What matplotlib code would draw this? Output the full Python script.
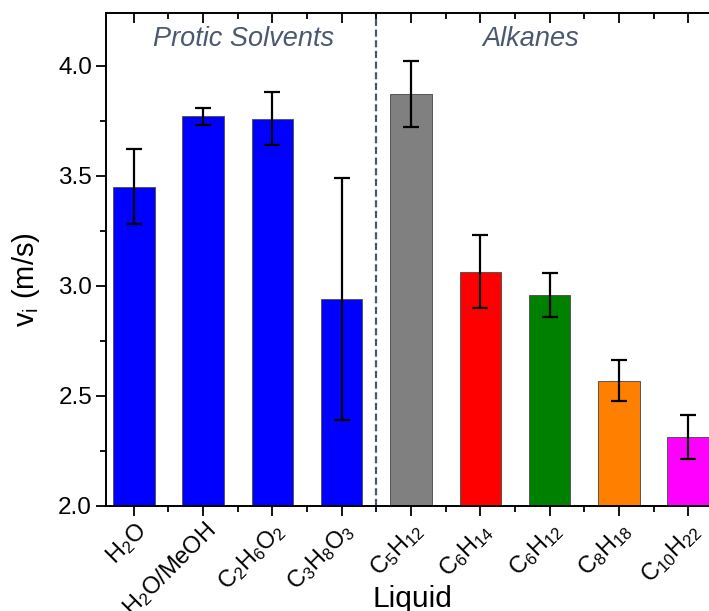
import matplotlib
matplotlib.use("Agg")
import matplotlib.pyplot as plt
from matplotlib.ticker import MultipleLocator, FixedLocator

plt.rcParams['font.family'] = ['Liberation Sans', 'DejaVu Sans']
plt.rcParams['mathtext.fontset'] = 'custom'
plt.rcParams['mathtext.rm'] = 'Liberation Sans'
plt.rcParams['mathtext.it'] = 'Liberation Sans:italic'

# Liquids and measured velocities
liquids = [r'H$_2$O', r'H$_2$O/MeOH', r'C$_2$H$_6$O$_2$', r'C$_3$H$_8$O$_3$',
           r'C$_5$H$_{12}$', r'C$_6$H$_{14}$', r'C$_6$H$_{12}$', r'C$_8$H$_{18}$',
           r'C$_{10}$H$_{22}$']
velocity = [3.45, 3.77, 3.76, 2.94, 3.87, 3.065, 2.96, 2.57, 2.315]
velocity_err = [0.17, 0.037, 0.12, 0.55, 0.15, 0.165, 0.10, 0.095, 0.10]
bar_colors = ['#0000ff', '#0000ff', '#0000ff', '#0000ff', '#808080',
              '#ff0000', '#008000', '#ff8000', '#ff00ff']
group_labels = ['Protic Solvents', 'Alkanes']

W, H = 709, 611
fig = plt.figure(figsize=(W / 100, H / 100), dpi=100)
ax = fig.add_axes([106 / W, (H - 506) / H, (716 - 106) / W, (506 - 13) / H])

pos = list(range(1, len(liquids) + 1))
ax.bar(pos, velocity, width=0.6, color=bar_colors, edgecolor='#555555',
       linewidth=0.7, zorder=2)
ax.errorbar(pos, velocity, yerr=velocity_err, fmt='none', ecolor='black',
            elinewidth=1.6, capsize=6, capthick=1.6, zorder=3)

ax.axvline(4.5, color='#4a5870', linestyle=(0, (3.2, 1.6)), linewidth=1.6, zorder=1)

text_color = '#4a5870'
ax.text(2.59, 4.091, group_labels[0], ha='center', va='baseline', fontsize=19.5,
        style='italic', color=text_color)
ax.text(6.72, 4.091, group_labels[1], ha='center', va='baseline', fontsize=19.5,
        style='italic', color=text_color)

ax.set_xlim(0.6, 9.4)
ax.set_ylim(2.0, 4.24)

ax.set_xticks(pos)
ax.set_xticklabels(liquids, rotation=45, ha='right', rotation_mode='anchor',
                   fontsize=17)
ax.xaxis.set_minor_locator(FixedLocator([p + 0.5 for p in pos]))
ax.yaxis.set_major_locator(MultipleLocator(0.5))
ax.yaxis.set_minor_locator(MultipleLocator(0.25))
ax.set_yticklabels([f'{v:.1f}' for v in ax.get_yticks()], fontsize=17.5)

ax.tick_params(axis='x', which='major', direction='out', length=7, width=1.3,
               top=True, pad=2)
ax.tick_params(axis='x', which='minor', direction='out', length=4, width=1.3,
               top=True)
ax.tick_params(axis='y', which='major', direction='out', length=7, width=1.3,
               pad=3)
ax.tick_params(axis='y', which='minor', direction='out', length=4, width=1.3)

# top ticks point inward
for t in ax.xaxis.get_major_ticks():
    t.tick2line.set_marker(3)
for t in ax.xaxis.get_minor_ticks():
    t.tick2line.set_marker(3)

for s in ax.spines.values():
    s.set_linewidth(1.4)

fig.text(412 / W, 4 / H, 'Liquid', ha='center', va='baseline', fontsize=21.5)
fig.text(34 / W, 1 - 280 / H, r'v$_\mathrm{i}$ (m/s)', ha='center', va='baseline',
         rotation=90, rotation_mode='anchor', fontsize=21)

fig.savefig('out.png', dpi=100)
